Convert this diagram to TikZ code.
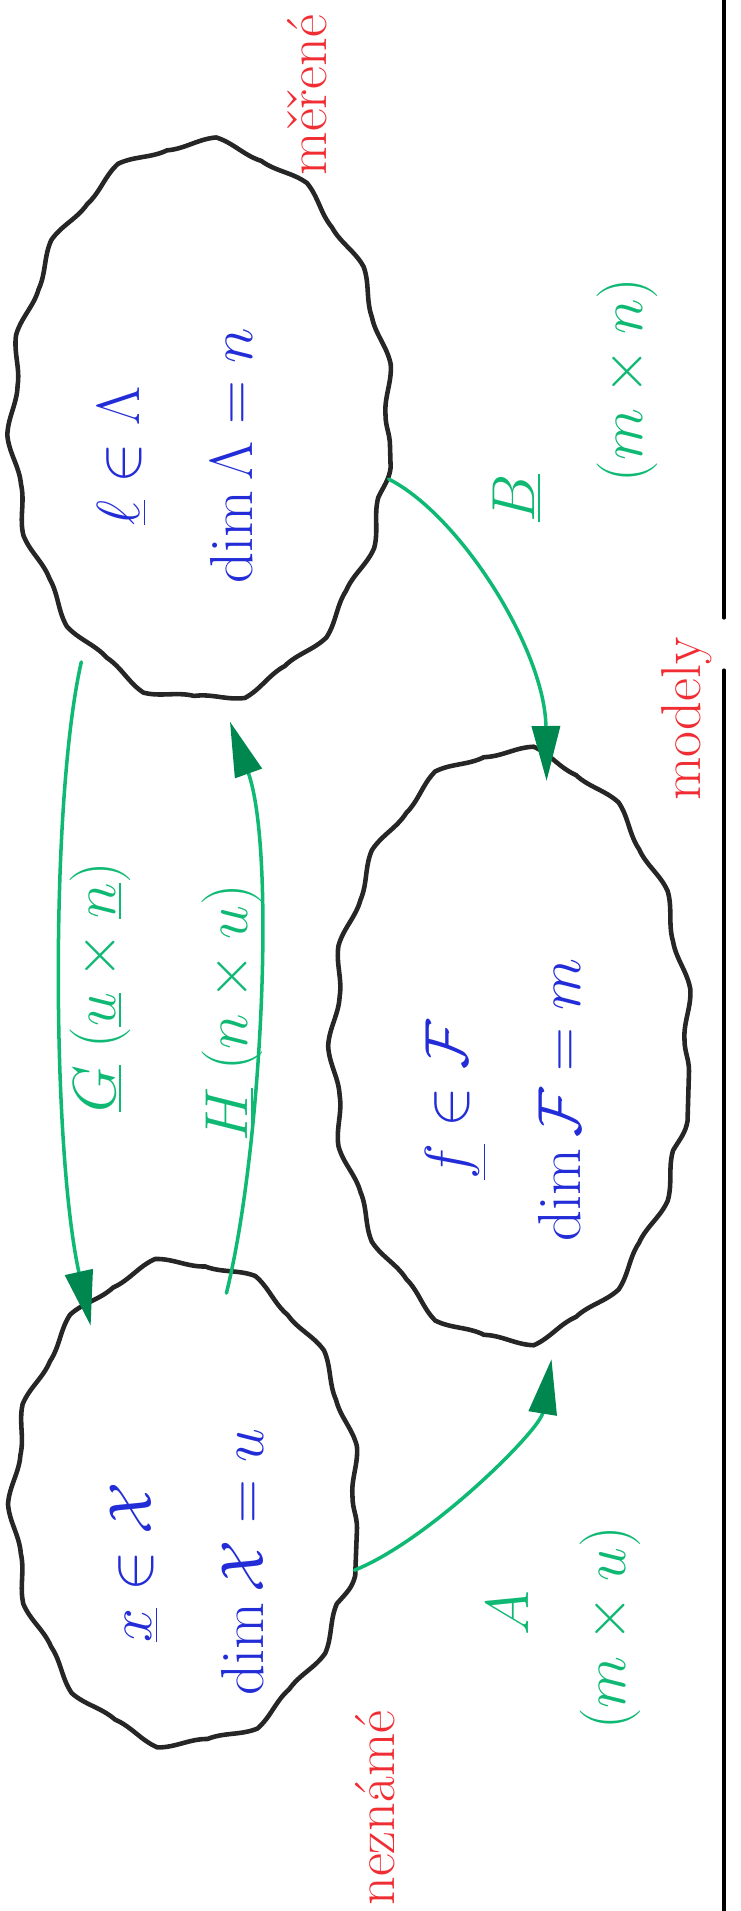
\documentclass[tikz,border=0pt]{standalone}
\usetikzlibrary{arrows.meta,shapes.geometric,decorations.pathmorphing}
\definecolor{penblue}{RGB}{35,45,215}
\definecolor{pengreen}{RGB}{15,185,115}
\definecolor{tipgreen}{RGB}{0,135,80}
\definecolor{penred}{RGB}{240,45,50}
\begin{document}
\begin{tikzpicture}[x=0.1mm, y=-0.1mm, line join=round, line cap=round,
	mnozina/.style={draw=black!85, line width=1.3pt, ellipse, inner sep=0pt, outer sep=0pt,
		decorate, decoration={snake, segment length=10mm, amplitude=0.45mm}},
	popis/.style={text=penblue, rotate=90, align=center, font=\fontsize{17}{32}\selectfont},
	matice/.style={text=pengreen, rotate=90, font=\fontsize{16}{20}\selectfont},
	slovo/.style={text=penred, rotate=90, font=\fontsize{16}{20}\selectfont},
	zobr/.style={draw=pengreen, line width=1pt, -{Triangle[length=5.5mm, width=2.8mm, color=tipgreen]}}]
	\useasboundingbox (0,0) rectangle (740,1911);
	% mnoziny
	\node[mnozina, minimum width=37.8mm, minimum height=55.8mm] (Lam) at (201,446) {};
	\node[mnozina, minimum width=35.6mm, minimum height=59.2mm] (F) at (511,1071) {};
	\node[mnozina, minimum width=34.4mm, minimum height=48.4mm] (X) at (185,1528) {};
	\node[popis] (lamTxt) at (175,456) {$\underline{\ell}\in\Lambda$\\$\dim\Lambda=n$};
	\node[popis] (fTxt) at (503,1100) {$\underline{f}\in\mathcal{F}$\\$\dim\mathcal{F}=m$};
	\node[popis] (xTxt) at (187,1562) {$\underline{x}\in\mathcal{X}$\\$\dim\mathcal{X}=u$};
	% zobrazeni
	\draw[zobr] (Lam.241) .. controls (50,800) and (52,1150) .. (X.115);
	\draw[zobr] (X.80) .. controls (262,1150) and (276,850) .. (Lam.276);
	\draw[zobr] (Lam.350) .. controls (460,515) and (545,650) .. (F.83);
	\draw[zobr] (X.346) .. controls (430,1540) and (540,1430) .. (F.278);
	\node[matice] (Glbl) at (100,987) {$\underline{G}\;(\underline{u}\times\underline{n})$};
	\node[matice] (Hlbl) at (232,1013) {$\underline{H}\;(n\times u)$};
	\node[matice] (Blbl) at (517,498) {$\underline{B}$};
	\node[matice] (Bdim) at (627,380) {$(m\times n)$};
	\node[matice] (Albl) at (508,1613) {$A$};
	\node[matice] (Adim) at (610,1628) {$(m\times u)$};
	% popisky
	\node[slovo] (mer) at (307,95) {měřené};
	\node[slovo] (nez) at (375,1808) {neznámé};
	\node[slovo, anchor=base] (mod) at (700,719) {modely};
	\draw[line width=0.9pt] (724,0) -- (724,618) (724,670) -- (724,1911);
\end{tikzpicture}
\end{document}
